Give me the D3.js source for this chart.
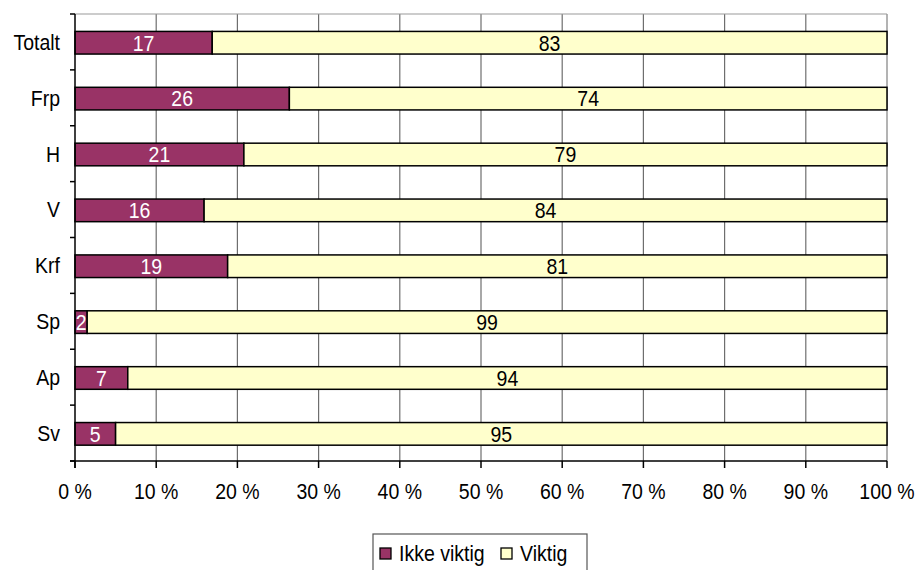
<!DOCTYPE html>
<html><head><meta charset="utf-8">
<script src="https://cdn.jsdelivr.net/npm/d3@7/dist/d3.min.js"></script>
<style>
body{margin:0;background:#fff;}
text{font-family:"Liberation Sans",Arial,sans-serif;}
</style></head>
<body>
<svg id="c" width="919" height="570"></svg>
<script>
const categories = ["Totalt","Frp","H","V","Krf","Sp","Ap","Sv"];
const ikkeViktig = [16.9, 26.4, 20.8, 15.9, 18.8, 1.5, 6.5, 5.0];
const viktig     = [83.1, 73.6, 79.2, 84.1, 81.2, 98.5, 93.5, 95.0];
const xTicks = [0,10,20,30,40,50,60,70,80,90,100];
const seriesNames = ["Ikke viktig","Viktig"];
const colors = ["#993366","#FFFFCC"];

const FS = 19.5, SY = 1.1;
function txt(sel, xx, yy){
  return sel.append("text").attr("transform",`translate(${xx},${yy}) scale(1,${SY})`)
    .attr("dominant-baseline","central").attr("font-size",FS);
}

const svg = d3.select("#c");
const L=75, R=887, T=14, B=461;
const x = d3.scaleLinear().domain([0,100]).range([L,R]);
const y = d3.scaleBand().domain(categories).range([T,B]).padding(0);
const barH = y.bandwidth()*0.405;

// gridlines
svg.append("g").selectAll("line").data(xTicks.filter(d=>d>0&&d<100)).join("line")
  .attr("x1",d=>x(d)).attr("x2",d=>x(d)).attr("y1",T).attr("y2",B)
  .attr("stroke","#6e6e6e").attr("stroke-width",1.2);
// top & right border
svg.append("line").attr("x1",L).attr("x2",R).attr("y1",T).attr("y2",T).attr("stroke","#9a9a9a").attr("stroke-width",1.2);
svg.append("line").attr("x1",R).attr("x2",R).attr("y1",T).attr("y2",B).attr("stroke","#9a9a9a").attr("stroke-width",1.5);

// bars
const data = categories.map((c,i)=>({c, v:[ikkeViktig[i], viktig[i]]}));
const g = svg.append("g");
data.forEach(d=>{
  const tot = d.v[0]+d.v[1];
  let acc=0;
  d.v.forEach((v,k)=>{
    const p0 = acc/tot*100, p1=(acc+v)/tot*100;
    acc+=v;
    const yc = y(d.c)+y.bandwidth()/2+0.8;
    g.append("rect").attr("x",x(p0)).attr("width",x(p1)-x(p0))
      .attr("y",yc-barH/2).attr("height",barH)
      .attr("fill",colors[k]).attr("stroke","#000").attr("stroke-width",1.5);
    txt(g,(x(p0)+x(p1))/2,yc).attr("text-anchor","middle")
      .attr("fill",k===0?"#fff":"#000").text(Math.round(v));
  });
});

// axes lines
svg.append("line").attr("x1",L).attr("x2",L).attr("y1",T).attr("y2",B+7).attr("stroke","#000").attr("stroke-width",1.5);
svg.append("line").attr("x1",L-5).attr("x2",R).attr("y1",B).attr("y2",B).attr("stroke","#000").attr("stroke-width",1.5);
// y ticks at band boundaries
const bounds = categories.map(c=>y(c)).concat([B]);
svg.append("g").selectAll("line").data(bounds).join("line")
  .attr("x1",L-5).attr("x2",L).attr("y1",d=>d).attr("y2",d=>d).attr("stroke","#000").attr("stroke-width",1.5);
// x ticks
svg.append("g").selectAll("line").data(xTicks).join("line")
  .attr("x1",d=>x(d)).attr("x2",d=>x(d)).attr("y1",B).attr("y2",B+7).attr("stroke","#000").attr("stroke-width",1.5);
// x labels
const xg = svg.append("g");
xTicks.forEach(d=>txt(xg,x(d),491.5).attr("text-anchor","middle").text(d+" %"));
// y labels
const yg = svg.append("g");
categories.forEach(c=>txt(yg,60,y(c)+y.bandwidth()/2).attr("text-anchor","end").text(c));

// legend
const lg = svg.append("g");
lg.append("rect").attr("x",373).attr("y",534).attr("width",214).attr("height",44)
  .attr("fill","#fff").attr("stroke","#555").attr("stroke-width",1.2);
const lx = [380, 501];
seriesNames.forEach((n,i)=>{
  lg.append("rect").attr("x",lx[i]).attr("y",548).attr("width",11).attr("height",11)
    .attr("fill",colors[i]).attr("stroke","#000").attr("stroke-width",1.3);
  txt(lg,lx[i]+19,553.5).text(n);
});
</script>
</body></html>
